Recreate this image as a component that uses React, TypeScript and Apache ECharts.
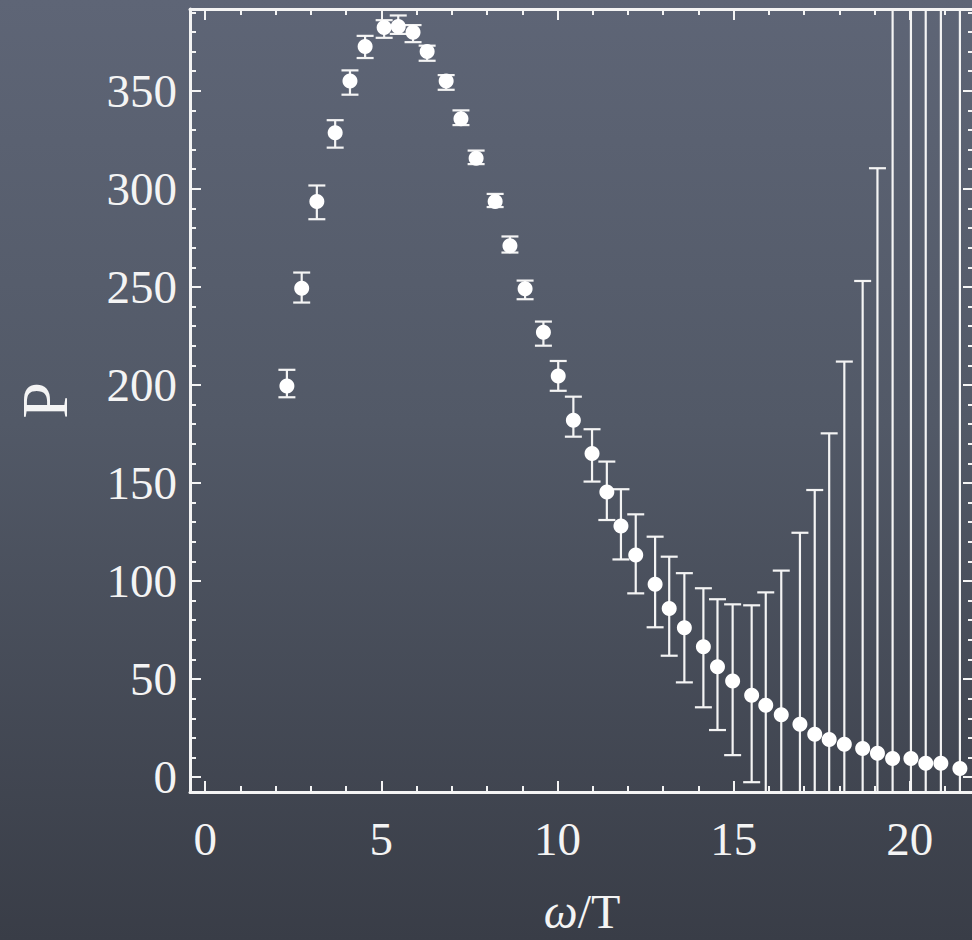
import React, { useEffect, useRef } from "react";
import * as echarts from "echarts";

// omega/T positions of the bins
const omegaT = [
  2.32, 2.74, 3.17, 3.69, 4.11, 4.54, 5.08, 5.48, 5.9, 6.3,
  6.84, 7.26, 7.69, 8.23, 8.65, 9.08, 9.6, 10.02, 10.45, 10.98,
  11.4, 11.8, 12.22, 12.77, 13.17, 13.6, 14.14, 14.54, 14.97, 15.51,
  15.91, 16.35, 16.88, 17.3, 17.71, 18.14, 18.66, 19.08, 19.51, 20.03,
  20.45, 20.88, 21.42,
];
// P values
const pValues = [
  199.5, 249.3, 293.5, 328.6, 355, 372.6, 382.3, 382.8, 379.9, 370,
  355, 335.7, 315.6, 293.5, 271, 249, 226.8, 204.6, 182, 165,
  145.4, 128, 113.3, 98.3, 86, 76.2, 66.5, 56.3, 49, 41.7,
  36.7, 31.8, 26.9, 21.9, 19.2, 16.8, 14.6, 12.1, 9.5, 9.5,
  7, 7, 4.4,
];
// lower end of the error bar
const errLow = [
  193.7, 242, 284.5, 321, 348, 366.7, 377, 379, 374.8, 365.3,
  350.5, 332.5, 312.6, 290.7, 267.5, 243.7, 220, 197, 173.6, 150.7,
  131.1, 111, 93.7, 76.4, 61.9, 48.3, 35.6, 24, 11.2, -2.6,
  -20.8, -41.7, -70.8, -102.6, -136.9, -178.3, -223.8, -286.3, -400, -500,
  -600, -700, -800,
];
// upper end of the error bar
const errHigh = [
  207.7, 257.3, 301.7, 335, 360.4, 378, 386, 388.4, 383.5, 373,
  358, 340, 319.5, 297.4, 275.7, 253.2, 232.3, 212.2, 194, 177.4,
  160.9, 146.8, 134, 122.6, 112.4, 104, 96.3, 90.7, 88.1, 87.6,
  94.2, 105.3, 124.6, 146.4, 175.3, 211.9, 253, 310.5, 419, 519,
  614, 714, 809,
];

const xMajor = [0, 5, 10, 15, 20];
const xMinor = [0, 1, 2, 3, 4, 5, 6, 7, 8, 9, 10, 11, 12, 13, 14, 15, 16, 17, 18, 19, 20, 21];
const yMajor = [0, 50, 100, 150, 200, 250, 300, 350];
const yMinor = [
  0, 10, 20, 30, 40, 50, 60, 70, 80, 90, 100, 110, 120, 130, 140, 150, 160, 170, 180, 190,
  200, 210, 220, 230, 240, 250, 260, 270, 280, 290, 300, 310, 320, 330, 340, 350, 360, 370, 380, 390,
];

const X_MIN = -0.43;
const X_MAX = 21.82;
const Y_MIN = -7.6;
const Y_MAX = 391.7;

const WHITE = "#f4f4f4";
const SERIF = "'Liberation Serif', 'Times New Roman', serif";

export default function App() {
  const ref = useRef<HTMLDivElement>(null);

  useEffect(() => {
    if (!ref.current) return;
    const chart = echarts.init(ref.current, undefined, { renderer: "svg" });

    const mkX = (pos: "top" | "bottom", values: number[], len: number, main: boolean, line: boolean) => ({
      type: "value",
      position: pos,
      min: X_MIN,
      max: X_MAX,
      splitLine: { show: false },
      axisLine: { show: line, onZero: false, lineStyle: { color: WHITE, width: 3 } },
      axisTick: {
        show: true,
        inside: true,
        length: len,
        customValues: values,
        lineStyle: { color: WHITE, width: 2 },
      },
      axisLabel: main
        ? {
            show: true,
            customValues: xMajor,
            margin: 23,
            color: WHITE,
            fontSize: 47,
            fontFamily: SERIF,
          }
        : { show: false },
      ...(main
        ? {
            name: "{i|ω}/T",
            nameLocation: "middle",
            nameGap: 95,
            nameTextStyle: {
              color: WHITE,
              fontSize: 48,
              fontFamily: SERIF,
              rich: {
                i: { fontStyle: "italic", fontSize: 48, fontFamily: SERIF, color: WHITE },
              },
            },
          }
        : {}),
    });

    const mkY = (pos: "left" | "right", values: number[], len: number, main: boolean, line: boolean) => ({
      type: "value",
      position: pos,
      min: Y_MIN,
      max: Y_MAX,
      splitLine: { show: false },
      axisLine: { show: line, onZero: false, lineStyle: { color: WHITE, width: 3 } },
      axisTick: {
        show: true,
        inside: true,
        length: len,
        customValues: values,
        lineStyle: { color: WHITE, width: 2 },
      },
      axisLabel: main
        ? {
            show: true,
            customValues: yMajor,
            margin: 13,
            color: WHITE,
            fontSize: 47,
            fontFamily: SERIF,
          }
        : { show: false },
      ...(main
        ? {
            name: "P",
            nameLocation: "middle",
            nameRotate: 90,
            nameGap: 113,
            nameTextStyle: { color: WHITE, fontSize: 66, fontFamily: SERIF },
          }
        : {}),
    });

    const errData = omegaT.map((x, i) => [x, errLow[i], errHigh[i]]);
    const pointData = omegaT.map((x, i) => [x, pValues[i]]);

    chart.setOption({
      animation: false,
      backgroundColor: {
        type: "linear",
        x: 0,
        y: 0,
        x2: 0,
        y2: 1,
        colorStops: [
          { offset: 0, color: "#5e6576" },
          { offset: 0.45, color: "#525967" },
          { offset: 1, color: "#393d47" },
        ],
      },
      grid: {
        left: 190,
        top: 9,
        width: 784,
        height: 783,
        containLabel: false,
        outerBoundsMode: "none",
      },
      xAxis: [
        mkX("bottom", xMajor, 11, true, true),
        mkX("bottom", xMinor, 6, false, false),
        mkX("top", xMajor, 11, false, true),
        mkX("top", xMinor, 6, false, false),
      ],
      yAxis: [
        mkY("left", yMajor, 11, true, true),
        mkY("left", yMinor, 6, false, false),
        mkY("right", yMajor, 11, false, true),
        mkY("right", yMinor, 6, false, false),
      ],
      series: [
        {
          type: "custom",
          xAxisIndex: 0,
          yAxisIndex: 0,
          data: errData,
          renderItem: (params: any, api: any) => {
            const x = api.value(0);
            const lo = api.value(1);
            const hi = api.value(2);
            const pLo = api.coord([x, lo]);
            const pHi = api.coord([x, hi]);
            const cs = params.coordSys;
            const top = cs.y;
            const bottom = cs.y + cs.height;
            const cx = pLo[0];
            const y1 = Math.max(pHi[1], top);
            const y2 = Math.min(pLo[1], bottom);
            const half = 8.5;
            const style = { stroke: WHITE, lineWidth: 2.2, fill: "none" };
            const children: any[] = [
              { type: "line", shape: { x1: cx, y1, x2: cx, y2 }, style },
            ];
            if (pHi[1] >= top) {
              children.push({ type: "line", shape: { x1: cx - half, y1: pHi[1], x2: cx + half, y2: pHi[1] }, style });
            }
            if (pLo[1] <= bottom) {
              children.push({ type: "line", shape: { x1: cx - half, y1: pLo[1], x2: cx + half, y2: pLo[1] }, style });
            }
            return { type: "group", children };
          },
          z: 2,
        },
        {
          type: "scatter",
          xAxisIndex: 0,
          yAxisIndex: 0,
          data: pointData,
          symbol: "circle",
          symbolSize: 15,
          itemStyle: { color: "#ffffff", opacity: 1 },
          z: 3,
        },
      ],
    });

    return () => chart.dispose();
  }, []);

  return (
    <div
      ref={ref}
      style={{ position: "absolute", left: 0, top: 0, width: 972, height: 940 }}
    />
  );
}
